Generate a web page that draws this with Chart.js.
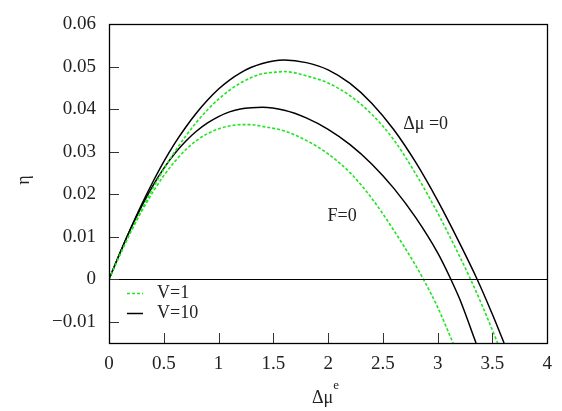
<!DOCTYPE html>
<html>
<head>
<meta charset="utf-8">
<script src="https://cdn.jsdelivr.net/npm/chart.js@4.4.0/dist/chart.umd.min.js"></script>
<style>
  html, body { margin: 0; padding: 0; background: #fff; }
  #wrap { width: 562px; height: 411px; }
</style>
</head>
<body>
<div id="wrap"><canvas id="eta-chart" width="562" height="411"></canvas></div>
<script>
// ===== eta vs delta-mu^e, two families (Δμ=0 and F=0), V=1 and V=10 =====

// Δμ = 0, V = 10 (black, outer)
const xOuterV10 = [0, 0.1, 0.2, 0.3, 0.4, 0.5, 0.6, 0.7, 0.8, 0.9, 1.0, 1.1, 1.2, 1.3, 1.4, 1.5, 1.6, 1.8, 2.0, 2.2, 2.4, 2.6, 2.8, 3.0, 3.2, 3.36, 3.5, 3.606];
const etaOuterV10 = [0, 0.0062, 0.0121, 0.0177, 0.0229, 0.0277, 0.0320, 0.0358, 0.0392, 0.0422, 0.0448, 0.0469, 0.0486, 0.0499, 0.0508, 0.0514, 0.0516, 0.0510, 0.0493, 0.0461, 0.0414, 0.0352, 0.0275, 0.0185, 0.0085, 0, -0.0083, -0.015];

// Δμ = 0, V = 1 (green dotted, outer)
const xOuterV1 = [0, 0.1, 0.2, 0.3, 0.4, 0.5, 0.6, 0.7, 0.8, 0.9, 1.0, 1.1, 1.2, 1.3, 1.4, 1.5, 1.6, 1.8, 2.0, 2.2, 2.4, 2.6, 2.8, 3.0, 3.2, 3.3, 3.4, 3.547];
const etaOuterV1 = [0, 0.0058, 0.0113, 0.0165, 0.0214, 0.0259, 0.0300, 0.0337, 0.0370, 0.0399, 0.0424, 0.0445, 0.0462, 0.0475, 0.0484, 0.0487, 0.0489, 0.0479, 0.0462, 0.0432, 0.0388, 0.0328, 0.0248, 0.0156, 0.0054, 0, -0.0058, -0.015];

// F = 0, V = 10 (black, inner)
const xInnerV10 = [0, 0.1, 0.2, 0.3, 0.4, 0.5, 0.6, 0.7, 0.8, 0.9, 1.0, 1.1, 1.2, 1.3, 1.4, 1.6, 1.8, 2.0, 2.2, 2.4, 2.6, 2.8, 3.0, 3.12, 3.2, 3.35];
const etaInnerV10 = [0, 0.0062, 0.0120, 0.0173, 0.0220, 0.0261, 0.0296, 0.0325, 0.0349, 0.0368, 0.0383, 0.0394, 0.0401, 0.0404, 0.0405, 0.0398, 0.0380, 0.0353, 0.0317, 0.0271, 0.0214, 0.0145, 0.0062, 0, -0.0046, -0.015];

// F = 0, V = 1 (green dotted, inner)
const xInnerV1 = [0, 0.1, 0.2, 0.3, 0.4, 0.5, 0.6, 0.7, 0.8, 0.9, 1.0, 1.1, 1.2, 1.3, 1.4, 1.6, 1.8, 2.0, 2.2, 2.4, 2.6, 2.8, 2.87, 3.0, 3.14];
const etaInnerV1 = [0, 0.0058, 0.0112, 0.0161, 0.0205, 0.0244, 0.0277, 0.0305, 0.0327, 0.0343, 0.0354, 0.0361, 0.0364, 0.0364, 0.0360, 0.0349, 0.0327, 0.0295, 0.0251, 0.0190, 0.0115, 0.0032, 0, -0.0066, -0.015];

// axes
const xTicks = [0, 0.5, 1, 1.5, 2, 2.5, 3, 3.5, 4];
const xTickLabels = ['0', '0.5', '1', '1.5', '2', '2.5', '3', '3.5', '4'];
const yTicks = [-0.01, 0, 0.01, 0.02, 0.03, 0.04, 0.05, 0.06];
const yTickLabels = ['\u22120.01', '0', '0.01', '0.02', '0.03', '0.04', '0.05', '0.06'];

const legendLabels = ['V=1', 'V=10'];

const SERIF = '"Liberation Serif", "Times New Roman", serif';
const GREEN = '#1ee61e';

function toPoints(xs, ys) {
    return xs.map((x, i) => ({ x: x, y: ys[i] }));
}

function greenLine(xs, ys) {
    return {
        data: toPoints(xs, ys),
        borderColor: GREEN,
        borderWidth: 1.6,
        borderDash: [3, 2],
        pointRadius: 0,
        fill: false,
        cubicInterpolationMode: 'monotone'
    };
}

function blackLine(xs, ys) {
    return {
        data: toPoints(xs, ys),
        borderColor: '#000',
        borderWidth: 1.5,
        pointRadius: 0,
        fill: false,
        cubicInterpolationMode: 'monotone'
    };
}

// frame, inward ticks, zero line, labels, legend, axis titles
const decorPlugin = {
    id: 'decor',
    afterDraw(chart) {
        const { ctx, chartArea: a, scales } = chart;
        const xs = scales.x, ys = scales.y;
        ctx.save();

        // zero line
        const y0 = Math.round(ys.getPixelForValue(0)) + 0.5;
        ctx.strokeStyle = '#000';
        ctx.lineWidth = 1;
        ctx.beginPath();
        ctx.moveTo(a.left, y0);
        ctx.lineTo(a.right, y0);
        ctx.stroke();

        // ticks (inside)
        ctx.strokeStyle = '#333';
        ctx.beginPath();
        yTicks.forEach(v => {
            const py = Math.round(ys.getPixelForValue(v)) + 0.5;
            ctx.moveTo(a.left, py);
            ctx.lineTo(a.left + 10, py);
        });
        xTicks.forEach(v => {
            const px = Math.round(xs.getPixelForValue(v)) + 0.5;
            ctx.moveTo(px, a.bottom);
            ctx.lineTo(px, a.bottom - 10);
        });
        ctx.stroke();

        // frame
        ctx.strokeStyle = '#000';
        ctx.lineWidth = 1.3;
        ctx.strokeRect(Math.round(a.left) + 0.5, Math.round(a.top) + 0.5,
            Math.round(a.right - a.left), Math.round(a.bottom - a.top));

        // curve annotations
        ctx.fillStyle = '#222';
        ctx.font = '18px ' + SERIF;
        ctx.textAlign = 'left';
        ctx.textBaseline = 'middle';
        ctx.fillText('\u0394\u03bc =0', xs.getPixelForValue(2.685), ys.getPixelForValue(0.0366));
        ctx.fillText('F=0', xs.getPixelForValue(1.995), ys.getPixelForValue(0.0148));

        // legend
        const legY = [a.bottom - 50, a.bottom - 30];
        legendLabels.forEach((lab, i) => {
            ctx.save();
            ctx.lineWidth = i === 0 ? 1.6 : 1.5;
            ctx.strokeStyle = i === 0 ? GREEN : '#000';
            ctx.setLineDash(i === 0 ? [3, 2] : []);
            ctx.beginPath();
            ctx.moveTo(a.left + 18, legY[i] + 0.5);
            ctx.lineTo(a.left + 34, legY[i] + 0.5);
            ctx.stroke();
            ctx.restore();
            ctx.fillText(lab, a.left + 48, legY[i]);
        });

        // x title: Δμ^e
        ctx.textBaseline = 'alphabetic';
        ctx.font = '18px ' + SERIF;
        ctx.fillText('\u0394\u03bc', 312, 403);
        const w = ctx.measureText('\u0394\u03bc').width;
        ctx.font = '13px ' + SERIF;
        ctx.fillText('e', 312 + w, 389);

        // y title: η (rotated)
        ctx.font = '18px ' + SERIF;
        ctx.translate(24, 180);
        ctx.rotate(-Math.PI / 2);
        ctx.textAlign = 'center';
        ctx.textBaseline = 'middle';
        ctx.fillText('\u03b7', 0, 0);

        ctx.restore();
    }
};

const chart = new Chart(document.getElementById('eta-chart'), {
    type: 'line',
    data: {
        datasets: [
            greenLine(xOuterV1, etaOuterV1),
            blackLine(xOuterV10, etaOuterV10),
            greenLine(xInnerV1, etaInnerV1),
            blackLine(xInnerV10, etaInnerV10)
        ]
    },
    options: {
        responsive: false,
        animation: false,
        layout: { padding: { top: 14, right: 11, left: 0, bottom: 0 } },
        plugins: {
            legend: { display: false },
            tooltip: { enabled: false }
        },
        scales: {
            x: {
                type: 'linear',
                min: 0,
                max: 4,
                afterBuildTicks: s => { s.ticks = xTicks.map(v => ({ value: v })); },
                afterFit: s => { s.height = 411 - 343; },
                ticks: {
                    color: '#222',
                    font: { family: SERIF, size: 19 },
                    padding: 10,
                    maxRotation: 0,
                    callback: v => xTickLabels[xTicks.indexOf(v)]
                },
                grid: { display: false, drawTicks: false },
                border: { display: false }
            },
            y: {
                type: 'linear',
                min: -0.015,
                max: 0.06,
                afterBuildTicks: s => { s.ticks = yTicks.map(v => ({ value: v })); },
                afterFit: s => { s.width = 109; },
                ticks: {
                    color: '#222',
                    font: { family: SERIF, size: 19 },
                    padding: 13,
                    callback: v => {
                        const i = yTicks.findIndex(t => Math.abs(t - v) < 1e-9);
                        return i >= 0 ? yTickLabels[i] : '';
                    }
                },
                grid: { display: false, drawTicks: false },
                border: { display: false }
            }
        }
    },
    plugins: [decorPlugin]
});
</script>
</body>
</html>
